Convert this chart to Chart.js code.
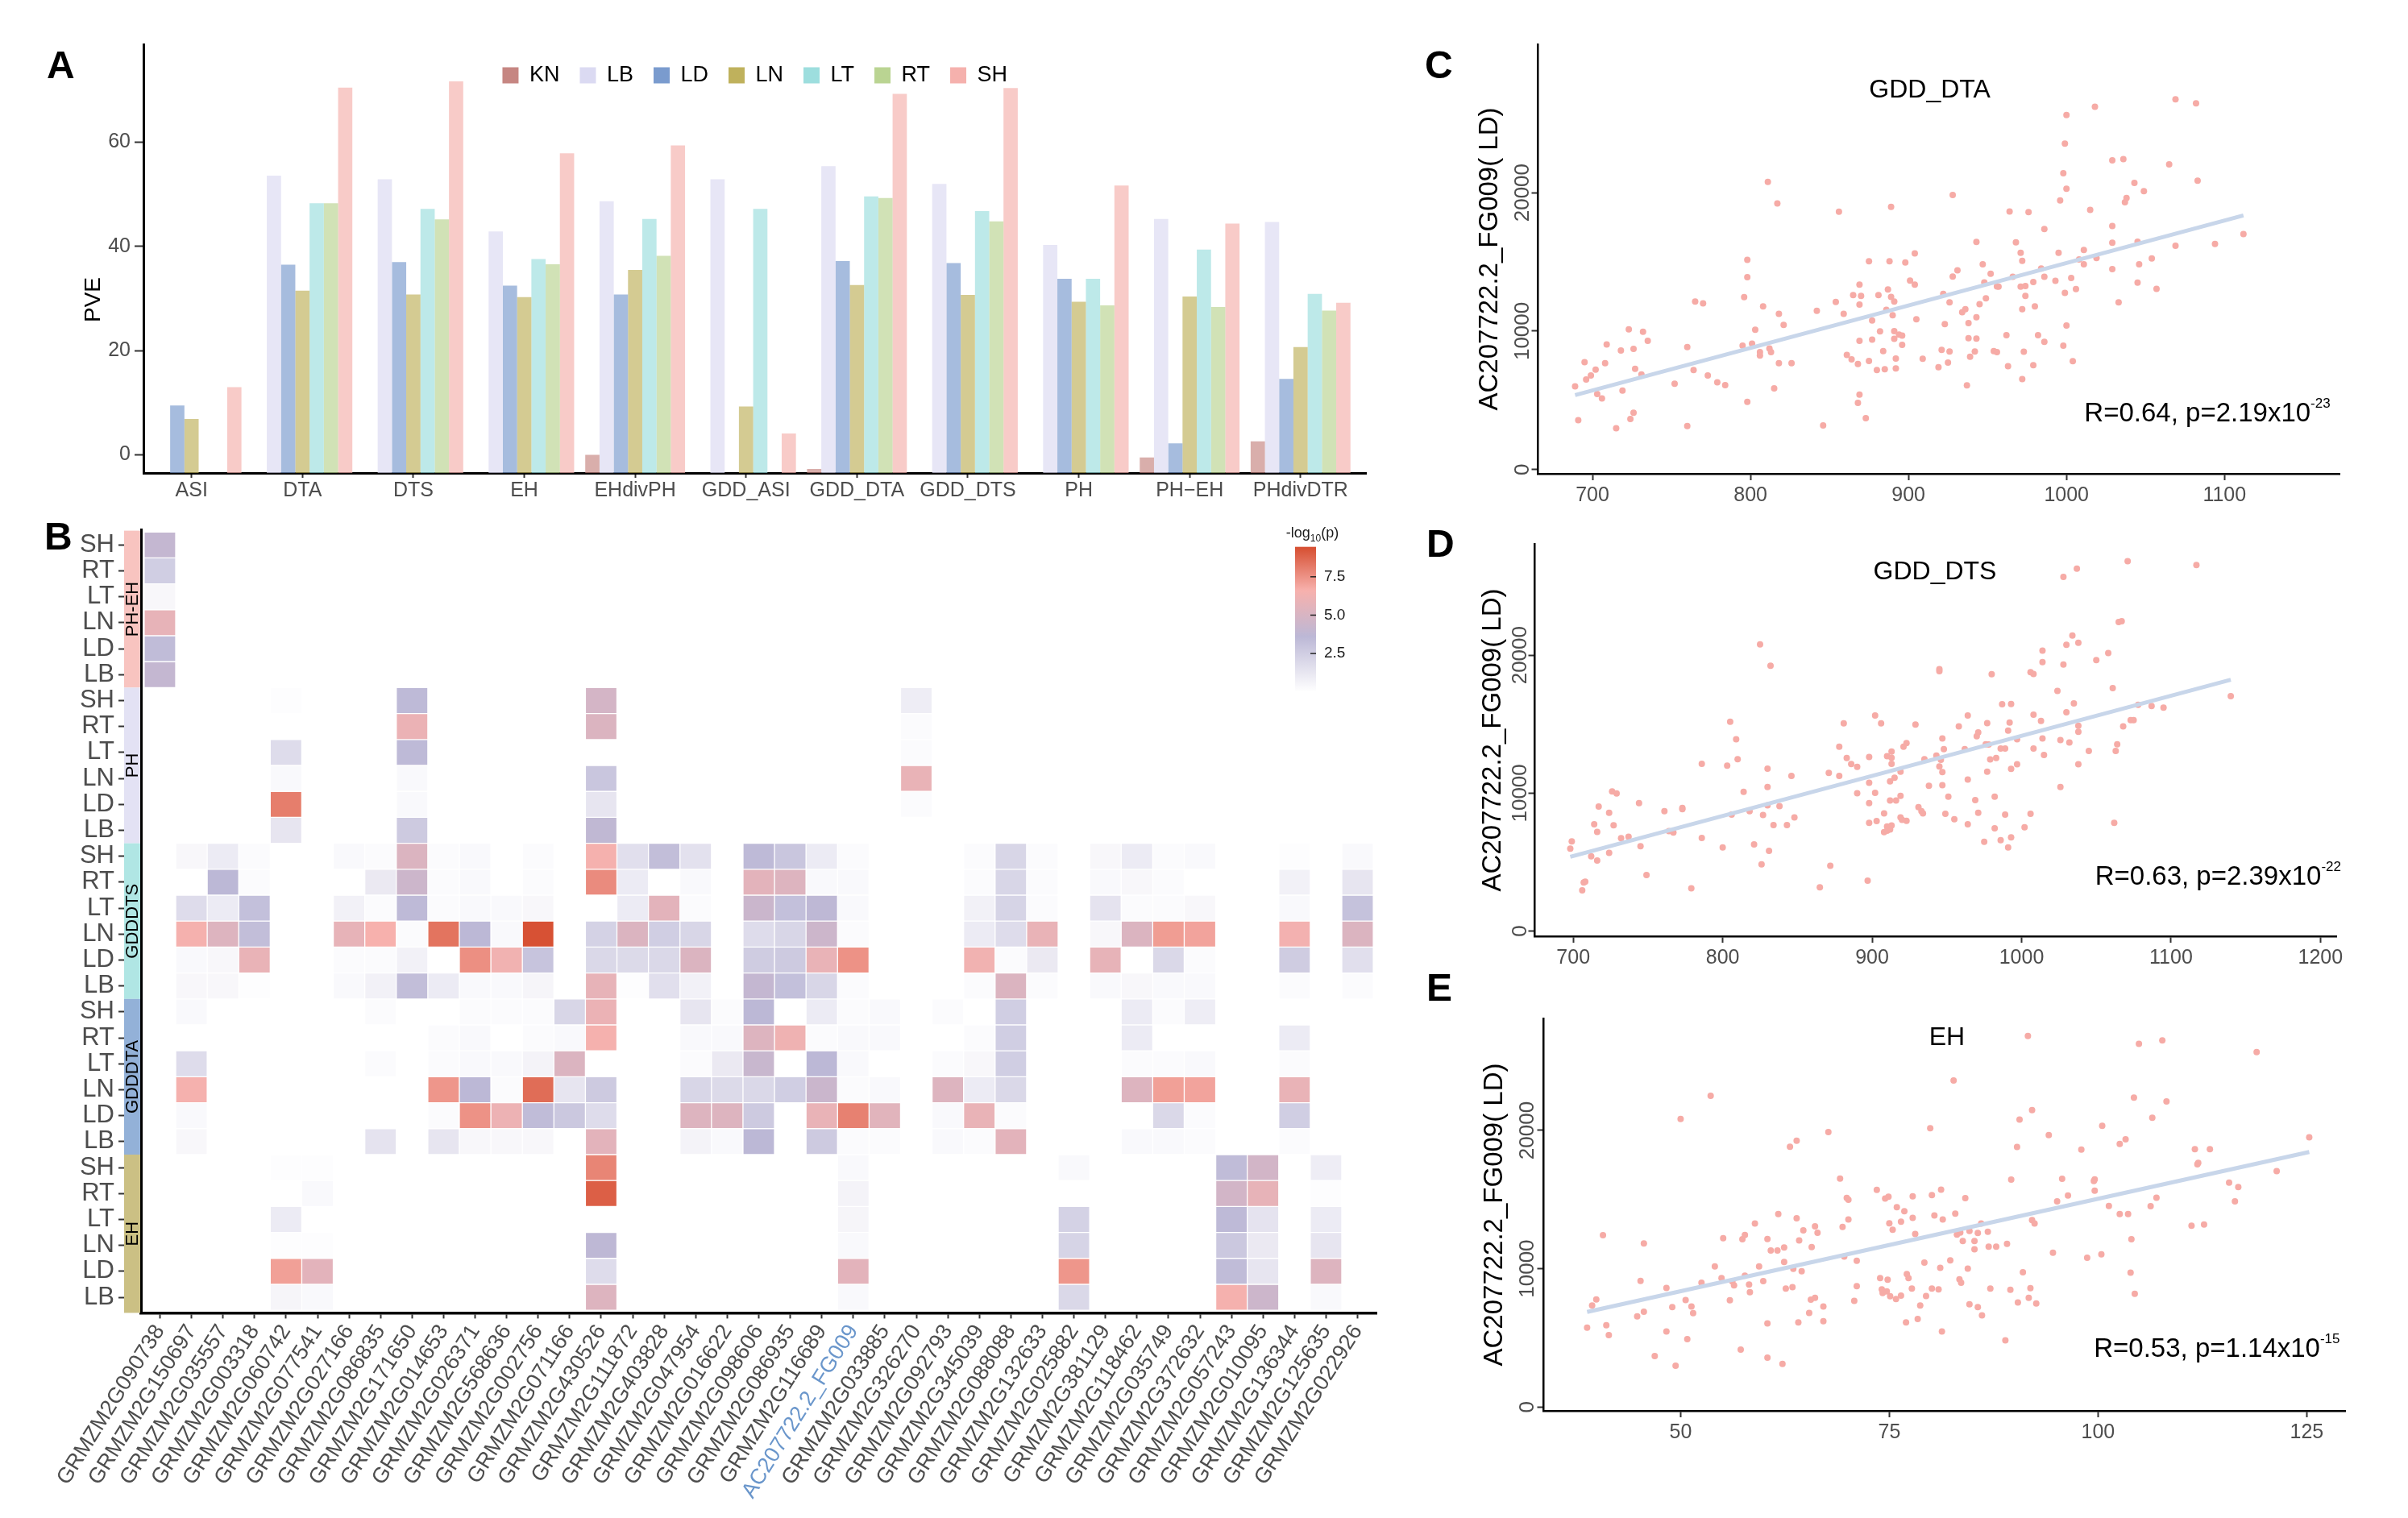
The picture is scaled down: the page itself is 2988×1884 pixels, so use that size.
<!DOCTYPE html>
<html lang="en">
<head>
<meta charset="utf-8">
<title>PVE, association heatmap and expression scatter</title>
<script src="https://cdn.jsdelivr.net/npm/chart.js@4.4.1/dist/chart.umd.min.js"></script>
<style>
  html, body { margin: 0; padding: 0; background: #fff; overflow: hidden; }
  #page { position: relative; width: 2988px; height: 1884px; }
  #page canvas { position: absolute; }
  .tag { position: absolute; font: bold 48px "Liberation Sans", Arial, sans-serif; line-height: 48px; color: #000; }
</style>
</head>
<body>
<div id="page">
  <canvas id="pveChart" width="1760" height="640" style="left:0px;top:0px"></canvas>
  <canvas id="heatChart" width="1760" height="1254" style="left:0px;top:630px"></canvas>
  <canvas id="dtaChart" width="1228" height="640" style="left:1760px;top:0px"></canvas>
  <canvas id="dtsChart" width="1228" height="580" style="left:1760px;top:630px"></canvas>
  <canvas id="ehChart" width="1228" height="669" style="left:1760px;top:1215px"></canvas>
  <div class="tag" style="left:58px;top:57px">A</div>
  <div class="tag" style="left:55px;top:642px">B</div>
  <div class="tag" style="left:1768px;top:57px">C</div>
  <div class="tag" style="left:1770px;top:651px">D</div>
  <div class="tag" style="left:1770px;top:1202px">E</div>
</div>
<script>
// ---------- panel A: PVE per trait and tissue ----------
const traits = ['ASI', 'DTA', 'DTS', 'EH', 'EHdivPH', 'GDD_ASI', 'GDD_DTA', 'GDD_DTS', 'PH', 'PH\u2212EH', 'PHdivDTR'];
const tissues = ['KN', 'LB', 'LD', 'LN', 'LT', 'RT', 'SH'];
const pveKN = [null, null, null, null, 0.0, null, -2.7, null, null, -0.5, 2.6];
const pveLB = [null, 53.6, 52.9, 42.9, 48.7, 52.9, 55.4, 52.0, 40.3, 45.3, 44.7];
const pveLD = [9.5, 36.5, 37.0, 32.5, 30.8, null, 37.2, 36.8, 33.8, 2.2, 14.6];
const pveLN = [6.9, 31.5, 30.8, 30.3, 35.5, 9.3, 32.6, 30.7, 29.4, 30.4, 20.7];
const pveLT = [null, 48.3, 47.2, 37.6, 45.3, 47.2, 49.6, 46.8, 33.8, 39.4, 30.9];
const pveRT = [null, 48.3, 45.2, 36.6, 38.2, null, 49.3, 44.8, 28.7, 28.4, 27.7];
const pveSH = [13.0, 70.5, 71.7, 57.9, 59.4, 4.1, 69.3, 70.4, 51.7, 44.4, 29.2];
const pveTicks = [0, 20, 40, 60];

// ---------- panel B: -log10(p) per gene and trait/tissue ----------
const genes = ['GRMZM2G090738', 'GRMZM2G150697', 'GRMZM2G035557', 'GRMZM2G003318', 'GRMZM2G060742',
  'GRMZM2G077541', 'GRMZM2G027166', 'GRMZM2G086835', 'GRMZM2G171650', 'GRMZM2G014653',
  'GRMZM2G026371', 'GRMZM2G568636', 'GRMZM2G002756', 'GRMZM2G071166', 'GRMZM2G430526',
  'GRMZM2G111872', 'GRMZM2G403828', 'GRMZM2G047954', 'GRMZM2G016622', 'GRMZM2G098606',
  'GRMZM2G086935', 'GRMZM2G116689', 'AC207722.2_FG009', 'GRMZM2G033885', 'GRMZM2G326270',
  'GRMZM2G092793', 'GRMZM2G345039', 'GRMZM2G088088', 'GRMZM2G132633', 'GRMZM2G025882',
  'GRMZM2G381129', 'GRMZM2G118462', 'GRMZM2G035749', 'GRMZM2G372632', 'GRMZM2G057243',
  'GRMZM2G010095', 'GRMZM2G136344', 'GRMZM2G125635', 'GRMZM2G022926'];
const highlightGene = 'AC207722.2_FG009';
const rowNames = ['SH', 'RT', 'LT', 'LN', 'LD', 'LB'];
const groups = ['PH-EH', 'PH', 'GDDDTS', 'GDDDTA', 'EH'];
const legendTicks = [2.5, 5.0, 7.5];

const _ = null;
const phehSH = [4.0,_,_,_,_,_,_,_,_,_,  _,_,_,_,_,_,_,_,_,_,  _,_,_,_,_,_,_,_,_,_,  _,_,_,_,_,_,_,_,_];
const phehRT = [2.5,_,_,_,_,_,_,_,_,_,  _,_,_,_,_,_,_,_,_,_,  _,_,_,_,_,_,_,_,_,_,  _,_,_,_,_,_,_,_,_];
const phehLT = [0.4,_,_,_,_,_,_,_,_,_,  _,_,_,_,_,_,_,_,_,_,  _,_,_,_,_,_,_,_,_,_,  _,_,_,_,_,_,_,_,_];
const phehLN = [5.8,_,_,_,_,_,_,_,_,_,  _,_,_,_,_,_,_,_,_,_,  _,_,_,_,_,_,_,_,_,_,  _,_,_,_,_,_,_,_,_];
const phehLD = [3.4,_,_,_,_,_,_,_,_,_,  _,_,_,_,_,_,_,_,_,_,  _,_,_,_,_,_,_,_,_,_,  _,_,_,_,_,_,_,_,_];
const phehLB = [4.0,_,_,_,_,_,_,_,_,_,  _,_,_,_,_,_,_,_,_,_,  _,_,_,_,_,_,_,_,_,_,  _,_,_,_,_,_,_,_,_];

const phSH = [_,_,_,_,0.1,_,_,_,3.5,_,  _,_,_,_,4.8,_,_,_,_,_,  _,_,_,_,0.9,_,_,_,_,_,  _,_,_,_,_,_,_,_,_];
const phRT = [_,_,_,_,_,_,_,_,6.0,_,  _,_,_,_,5.2,_,_,_,_,_,  _,_,_,_,0.2,_,_,_,_,_,  _,_,_,_,_,_,_,_,_];
const phLT = [_,_,_,_,1.8,_,_,_,3.5,_,  _,_,_,_,_,_,_,_,_,_,  _,_,_,_,0.2,_,_,_,_,_,  _,_,_,_,_,_,_,_,_];
const phLN = [_,_,_,_,0.3,_,_,_,0.3,_,  _,_,_,_,2.9,_,_,_,_,_,  _,_,_,_,5.9,_,_,_,_,_,  _,_,_,_,_,_,_,_,_];
const phLD = [_,_,_,_,8.1,_,_,_,0.3,_,  _,_,_,_,1.3,_,_,_,_,_,  _,_,_,_,0.2,_,_,_,_,_,  _,_,_,_,_,_,_,_,_];
const phLB = [_,_,_,_,1.3,_,_,_,2.7,_,  _,_,_,_,3.8,_,_,_,_,_,  _,_,_,_,_,_,_,_,_,_,  _,_,_,_,_,_,_,_,_];

const dtsSH = [_,0.4,1.0,0.2,_,_,0.3,0.2,5.2,0.2,  0.3,_,0.2,_,6.5,1.6,3.3,1.5,_,3.5,  2.9,1.0,0.2,_,_,_,0.2,2.1,0.2,_,  0.4,1.0,0.2,0.3,_,_,0.1,_,0.3];
const dtsRT = [_,_,3.6,0.2,_,_,_,1.1,4.4,0.2,  0.3,_,0.2,_,7.7,1.0,_,0.3,_,5.6,  5.3,0.3,0.3,_,_,_,0.2,2.1,0.2,_,  0.3,0.4,0.2,_,_,_,0.7,_,1.3];
const dtsLT = [_,1.8,1.0,3.2,_,_,0.7,0.2,3.5,0.2,  0.3,0.3,0.4,_,_,1.0,5.6,0.2,_,4.3,  3.2,3.7,0.3,_,_,_,0.7,2.2,0.2,_,  1.4,0.2,0.2,0.4,_,_,0.3,_,3.1];
const dtsLN = [_,6.5,5.3,3.3,_,_,5.8,6.6,0.2,8.4,  3.6,0.3,9.4,_,2.3,5.2,2.5,2.1,_,1.8,  2.1,4.4,0.2,_,_,_,1.0,1.8,5.9,_,  0.4,5.2,7.2,7.0,_,_,6.4,_,5.2];
const dtsLD = [_,0.3,0.4,5.9,_,_,0.2,0.2,0.7,_,  7.6,6.3,3.0,_,2.0,1.9,2.0,5.2,_,2.6,  2.7,5.9,7.5,_,_,_,6.3,0.2,1.1,_,  5.8,_,2.0,0.2,_,_,2.6,_,1.6];
const dtsLB = [_,0.4,0.4,0.1,_,_,0.3,0.7,3.3,1.0,  0.3,0.3,0.5,_,5.8,0.1,1.6,0.7,_,4.0,  3.2,2.1,0.2,_,_,_,0.2,5.2,0.2,_,  0.3,0.4,0.3,0.3,_,_,0.2,_,0.2];

const dtaSH = [_,0.3,_,_,_,_,_,0.2,_,_,  0.2,0.2,0.2,2.1,6.0,_,_,1.3,0.2,3.6,  _,1.0,0.2,0.3,_,0.2,_,2.5,_,_,  _,1.0,0.2,0.9,_,_,_,_,_];
const dtaRT = [_,_,_,_,_,_,_,_,_,0.2,  0.3,_,0.2,0.3,6.5,_,_,0.3,0.3,5.3,  6.2,0.2,0.3,0.3,_,_,0.2,2.5,_,_,  _,1.0,_,_,_,_,1.0,_,_];
const dtaLT = [_,1.8,_,_,_,_,_,0.2,_,0.2,  0.3,0.3,0.6,5.2,_,_,_,0.2,1.1,4.2,  _,3.6,0.3,_,_,0.2,0.4,2.5,_,_,  _,0.2,0.2,0.3,_,_,0.2,_,_];
const dtaLN = [_,6.5,_,_,_,_,_,_,_,7.4,  3.6,0.2,8.6,1.3,2.7,_,_,2.1,1.9,2.0,  2.5,4.3,0.2,0.3,_,5.3,1.0,2.0,_,_,  _,5.3,7.1,7.0,_,_,5.9,_,_];
const dtaLD = [_,0.3,_,_,_,_,_,_,_,0.2,  7.5,6.1,3.4,2.8,1.8,_,_,5.3,5.3,2.7,  _,5.9,8.0,5.5,_,0.3,5.9,0.2,_,_,  _,_,2.0,0.2,_,_,2.5,_,_];
const dtaLB = [_,0.4,_,_,_,_,_,1.4,_,1.3,  0.4,0.4,0.4,_,5.6,_,_,0.6,0.3,3.6,  _,2.7,0.2,0.2,_,0.3,0.2,5.6,_,_,  _,0.3,0.3,0.2,_,_,0.2,_,_];

const ehSH = [_,_,_,_,0.1,0.1,_,_,_,_,  _,_,_,_,7.9,_,_,_,_,_,  _,_,0.3,_,_,_,_,_,_,0.3,  _,_,_,_,3.4,4.7,_,0.9,_];
const ehRT = [_,_,_,_,_,0.3,_,_,_,_,  _,_,_,_,9.0,_,_,_,_,_,  _,_,0.6,_,_,_,_,_,_,_,  _,_,_,_,4.7,5.8,_,0.1,_];
const ehLT = [_,_,_,_,1.0,_,_,_,_,_,  _,_,_,_,_,_,_,_,_,_,  _,_,0.5,_,_,_,_,_,_,2.3,  _,_,_,_,3.5,1.4,_,1.0,_];
const ehLN = [_,_,_,_,0.1,0.1,_,_,_,_,  _,_,_,_,3.7,_,_,_,_,_,  _,_,0.3,_,_,_,_,_,_,2.2,  _,_,_,_,2.8,1.1,_,1.3,_];
const ehLD = [_,_,_,_,7.1,5.6,_,_,_,_,  _,_,_,_,1.8,_,_,_,_,_,  _,_,5.6,_,_,_,_,_,_,7.4,  _,_,_,_,3.4,1.3,_,5.3,_];
const ehLB = [_,_,_,_,0.5,0.3,_,_,_,_,  _,_,_,_,5.3,_,_,_,_,_,  _,_,0.3,_,_,_,_,_,_,2.0,  _,_,_,_,6.5,4.4,_,0.3,_];

// ---------- panels C-E: expression of AC207722.2_FG009 in LD vs trait ----------
const dtaX = [689,691,695,696,699,702,703,706,709,708, 715,718,719,723,724,726,726,727,731,732,
  735,752,760,760,764,765,770,773,779,784, 795,796,798,798,798,801,803,806,806,808,
  811,812,813,815,817,818,818,821,826,842, 846,854,856,859,861,864,865,868,868,869,
  869,869,869,870,873,875,875,877,877,880, 881,882,884,885,886,887,888,889,889,890,
  891,891,891,892,892,894,896,896,898,901, 904,904,905,909,919,921,922,923,925,926,
  926,928,928,931,934,936,937,938,938,939, 942,943,943,943,945,947,948,949,952,954,
  956,956,957,962,963,964,966,968,971,971, 972,972,972,973,974,974,976,979,980,979,
  982,984,986,986,986,993,995,996,998,998, 999,999,1000,1000,1000,1003,1004,1006,1008,1011,
  1011,1015,1018,1019,1029,1029,1029,1029,1033,1036, 1037,1038,1043,1045,1045,1046,1049,1054,1057,1065,
  1069,1069,1082,1083,1094,1112];
const dtaY = [6010,3560,7750,6500,6790,7220,5460,5140,9040,7680, 2980,8600,5700,10130,3650,8710,4100,7280,6860,9950,
  9290,6190,8840,3140,7190,12140,12000,6790,6300,6100, 8950,12450,13900,15140,4880,9090,10090,8480,8240,11780,
  20780,8750,8480,5860,19220,7680,11250,10440,7680,11470, 3180,12110,18620,11250,8280,7950,12600,7620,4810,11910,
  5410,9290,13360,12540,3700,15050,7840,10760,9380,7190, 12600,9980,8550,7240,11540,13010,15050,18970,12470,11140,
  9440,10000,12140,7300,8020,9750,9000,9670,14960,13650, 13360,15610,10850,8000,7390,8640,12690,10510,7730,8530,
  12070,13940,19840,14390,11360,11580,6080,9490,10580,8150, 8530,11000,16440,9460,11940,14830,13520,12360,14140,8550,
  8480,13230,13210,9710,7460,18640,13920,16410,15660,13210, 6530,11580,15080,8510,12540,13250,18600,13540,11780,7530,
  9710,14520,17370,13920,9220,13630,15660,19440,8950,21400, 23540,12760,20290,25610,10400,13830,7820,13030,15170,15860,
  14830,18750,26210,15280,22340,17590,16390,14480,12070,22430, 19310,19620,20710,16460,13500,14830,20110,15250,13050,22050,
  26750,16170,26460,20870,16300,17010];

const dtsX = [699,698,706,708,707,712,714,716,716,717, 724,724,726,727,729,732,737,744,745,749,
  761,764,767,773,773,779,786,786,800,803, 805,806,809,810,814,818,821,825,826,827,
  830,830,830,831,832,834,838,843,846,848, 865,871,872,878,878,881,883,886,890,890,
  897,898,898,898,898,902,902,903,906,908, 908,910,910,910,912,912,912,913,913,913,
  913,915,916,919,919,919,920,921,923,923, 929,931,933,934,935,938,943,945,945,945,
  946,947,947,947,948,949,951,955,958,962, 964,964,964,969,970,971,971,975,976,977,
  977,978,979,980,982,982,983,986,986,987, 989,989,991,991,992,993,993,993,997,997,
  1002,1006,1008,1006,1008,1008,1013,1014,1014,1015, 1014,1024,1026,1026,1028,1028,1030,1030,1032,1034,
  1035,1037,1038,1038,1038,1045,1038,1050,1058,1061, 1062,1063,1064,1065,1067,1068,1071,1073,1075,1078,
  1087,1095,1117,1140];
const dtsY = [6510,5980,2950,3580,3520,5430,7740,7190,5120,9030, 5670,8570,10130,7670,9980,6730,6840,9280,6150,4070,
  8700,7250,7140,8840,8920,3100,6750,12130,6070,12000, 15170,8440,13910,12460,10090,8700,6290,20790,4840,8420,
  11780,10440,9120,5820,19230,7690,9060,7690,11250,8240, 3170,11470,4730,11250,13360,15060,12550,12110,11910,10000,
  3650,12620,10750,9280,7850,10020,15630,7980,15060,8530, 7170,7580,12680,7280,10860,9470,7360,7650,13010,12570,
  12130,11120,9470,9800,11560,8240,8070,13360,13630,8000, 14970,8990,8700,8530,12460,10530,12730,18840,18990,11940,
  12420,11520,13960,10570,13190,8510,9740,8110,14840,13190, 7740,10990,15630,9500,14130,8570,14400,6480,13540,11560,
  15080,13520,12440,18620,9740,7450,12550,6590,13230,16440, 8440,13230,6070,14530,15120,11760,6790,16460,13910,12090,
  7520,18770,18640,8510,15690,13230,15230,13960,19500,12770, 20330,17410,10440,13850,19320,25670,15870,20750,13670,21430,
  16510,26270,14880,14440,20900,13060,12090,19650,20160,17610, 7850,13060,13540,22400,22460,14840,26820,15300,15300,16400,
  16310,16200,26530,17030];

const ehX = [38.8,39.4,39.9,40.7,41.1,41.4,44.8,45.2,45.6,45.6, 46.9,48.3,48.3,49.0,49.4,50.0,50.6,50.8,51.3,51.5,
  52.5,53.6,54.1,54.9,55.1,55.9,56.2,56.4,57.2,57.4, 57.7,57.7,58.2,58.3,58.9,59.4,59.9,60.4,60.4,60.4,
  60.8,61.6,61.7,62.2,62.4,62.4,62.6,63.1,63.4,63.5, 63.9,63.9,64.1,64.2,64.5,64.7,65.4,65.6,65.7,66.1,
  66.1,66.4,67.1,67.1,67.7,69.1,69.4,69.6,69.9,70.1, 70.1,70.8,71.1,71.1,73.5,73.9,74.1,74.2,74.5,74.7,
  74.8,74.9,75.0,75.1,75.4,75.8,75.9,76.4,76.4,76.8, 77.0,77.3,77.1,77.7,77.8,77.8,78.1,78.4,78.7,79.2,
  79.4,79.9,80.1,80.1,80.4,80.9,81.1,81.2,81.3,81.4, 82.3,82.7,82.9,83.1,83.4,83.5,83.6,83.8,84.1,84.4,
  84.6,84.6,85.2,85.2,85.6,85.6,86.0,86.1,86.8,86.9, 87.1,87.8,88.9,89.1,89.5,89.6,90.3,90.4,90.6,91.0,
  91.7,91.9,91.6,92.1,92.1,92.4,92.6,94.1,94.6,95.1, 95.7,96.4,98.0,98.7,99.5,99.6,99.6,100.4,100.5,101.3,
  102.6,102.6,103.3,103.6,103.9,104.0,104.3,104.4,104.9,106.3, 106.5,107.0,107.7,108.2,111.2,111.6,111.9,112.0,112.7,113.4,
  115.7,116.4,116.8,119.0,121.4,125.3];
const ehY = [5730,7340,7780,12420,5910,5200,6560,9120,6890,11820, 3680,8610,5460,7230,2990,20830,7740,4910,7270,6780,
  8990,22500,10170,9320,12200,7720,9080,8790,4150,12130, 12440,9500,8850,8300,13270,10170,9100,6040,12150,3570,
  11310,11310,13960,3120,10480,11530,8560,18820,8670,9990, 19250,13650,6110,12040,9810,12780,6800,7760,11570,7890,
  13070,12600,7270,6200,19890,16520,13020,10880,15120,14990, 13560,7670,10570,8740,15700,9320,8500,8250,15070,8360,
  9210,15210,13290,8010,12820,7800,14450,8050,13400,14160, 6110,9320,9610,8560,13670,15230,12510,6360,7340,10440,
  8030,20160,8560,15320,13850,8500,10060,15720,5460,13560, 10610,23620,13980,12470,9230,12620,8990,12000,15100,10010,
  12730,7430,11400,12000,12580,7230,13270,6620,12670,11600, 8560,11600,4820,11800,8470,16440,18800,7560,20780,9750,
  7890,8590,26830,21470,13510,13270,7490,19670,11150,14870, 16500,15300,18620,10790,16350,16460,15650,11040,20340,14540,
  19020,13960,19360,13960,9720,12130,22370,8180,26270,14520, 20920,15140,26510,22100,13110,18640,17550,17660,13200,18640,
  16230,14870,15900,25670,17060,19510];
const exprTicks = [0, 10000, 20000];

// ---------- styling ----------
const FONT = '"Liberation Sans", Arial, Helvetica, sans-serif';
Chart.defaults.font.family = FONT;
Chart.defaults.color = '#4d4d4d';
Chart.defaults.animation = false;

const tissueColors = ['#c68682', '#dbdaf2', '#7a9bce', '#bfb15c', '#9ddede', '#bad492', '#f5b1ad'];
const groupColors = ['#f8c4c0', '#e3e2f4', '#b0e6e4', '#93b1d8', '#cbc084'];
const heatStops = [[0, [255, 255, 255]], [3.6, [188, 184, 214]], [6.6, [247, 177, 173]], [9.5, [214, 78, 48]]];

function withAlpha(hex, a) {
  const n = parseInt(hex.slice(1), 16);
  return `rgba(${n >> 16}, ${(n >> 8) & 255}, ${n & 255}, ${a})`;
}
function heatColor(v) {
  for (let i = 1; i < heatStops.length; i++) {
    const [v0, c0] = heatStops[i - 1], [v1, c1] = heatStops[i];
    if (v <= v1 || i === heatStops.length - 1) {
      const t = Math.max(0, Math.min(1, (v - v0) / (v1 - v0)));
      const c = c0.map((k, j) => Math.round(k + (c1[j] - k) * t));
      return `rgb(${c[0]}, ${c[1]}, ${c[2]})`;
    }
  }
}
function fixedTicks(values) {
  return scale => { scale.ticks = values.map(v => ({ value: v })); };
}
const axisLine = { display: true, color: '#000', width: 3 };
const tickMarks = len => ({ display: true, drawOnChartArea: false, offset: false, tickLength: len, tickColor: '#333', tickWidth: 2 });

// ---------- A ----------
const pveSeries = [pveKN, pveLB, pveLD, pveLN, pveLT, pveRT, pveSH];
const pveTitle = {
  id: 'pveTitle',
  afterDraw(chart) {
    const ctx = chart.ctx;
    ctx.save();
    ctx.translate(116, 372);
    ctx.rotate(-Math.PI / 2);
    ctx.font = '28px ' + FONT;
    ctx.fillStyle = '#000';
    ctx.textAlign = 'center';
    ctx.textBaseline = 'middle';
    ctx.fillText('PVE', 0, 0);
    ctx.restore();
  }
};
// the legend sits inside the plot area, laid out in one row like ggplot's
const rowLegend = {
  id: 'rowLegend',
  beforeUpdate(chart) {
    if (chart.legend) chart.legend.isHorizontal = () => true;
  },
  afterLayout(chart) {
    const lg = chart.legend;
    if (lg) {
      lg.left = chart.chartArea.left;
      lg.right = chart.chartArea.right;
    }
  }
};

new Chart(document.getElementById('pveChart'), {
  type: 'bar',
  data: {
    labels: traits.map((t, i) => i),
    datasets: tissues.map((t, i) => ({
      label: t,
      data: pveSeries[i],
      backgroundColor: withAlpha(tissueColors[i], 0.67),
      borderWidth: 0,
      base: -3.47,
      categoryPercentage: 0.9,
      barPercentage: 1
    }))
  },
  options: {
    responsive: false,
    devicePixelRatio: 1,
    animation: false,
    layout: { padding: { left: 0, top: 55, right: 65, bottom: 0 } },
    plugins: {
      tooltip: { enabled: false },
      legend: {
        position: 'chartArea',
        align: 'center',
        labels: {
          boxWidth: 20, boxHeight: 20, padding: 25, color: '#000', font: { size: 27 },
          generateLabels: () => tissues.map((t, i) => ({
            text: t, fillStyle: tissueColors[i], strokeStyle: tissueColors[i],
            lineWidth: 0, hidden: false, datasetIndex: i
          }))
        }
      }
    },
    scales: {
      x: {
        type: 'linear', min: -0.43, max: 10.59, offset: false,
        afterBuildTicks: fixedTicks(traits.map((t, i) => i)),
        afterFit: s => { s.height = 53; },
        ticks: { autoSkip: false, maxRotation: 0, padding: 1, font: { size: 25 }, callback: v => traits[v] },
        grid: tickMarks(6),
        border: axisLine
      },
      y: {
        min: -3.47, max: 78.8,
        afterBuildTicks: fixedTicks(pveTicks),
        afterFit: s => { s.width = 178.5; },
        ticks: { padding: 5, font: { size: 25 }, callback: v => String(v) },
        grid: tickMarks(11.5),
        border: axisLine
      }
    }
  },
  plugins: [rowLegend, pveTitle]
});

// ---------- B ----------
const heatRows = [phehSH, phehRT, phehLT, phehLN, phehLD, phehLB,
  phSH, phRT, phLT, phLN, phLD, phLB,
  dtsSH, dtsRT, dtsLT, dtsLN, dtsLD, dtsLB,
  dtaSH, dtaRT, dtaLT, dtaLN, dtaLD, dtaLB,
  ehSH, ehRT, ehLT, ehLN, ehLD, ehLB];
heatRows.forEach((r, i) => { if (r.length !== genes.length) throw new Error('row ' + i + ' has ' + r.length); });

const heatDecor = {
  id: 'heatDecor',
  afterDraw(chart) {
    const ctx = chart.ctx;
    const y = chart.scales.y;
    ctx.save();
    // trait strips beside the row labels
    groups.forEach((g, i) => {
      const top = y.getPixelForValue(i === 0 ? -0.55 : i * 6 - 0.5);
      const bottom = y.getPixelForValue(i === groups.length - 1 ? 29.6 : i * 6 + 5.5);
      ctx.fillStyle = groupColors[i];
      ctx.fillRect(154, top, 20, bottom - top);
      ctx.save();
      ctx.translate(164.5, (top + bottom) / 2);
      ctx.rotate(-Math.PI / 2);
      ctx.font = '22px ' + FONT;
      ctx.fillStyle = '#000';
      ctx.textAlign = 'center';
      ctx.textBaseline = 'middle';
      ctx.fillText(g, 0, 0);
      ctx.restore();
    });
    // colour bar
    const cbX = 1607, cbW = 26, zeroY = 228.7, perUnit = 19.05, cbMax = 9.45;
    const yAt = v => zeroY - v * perUnit;
    const grad = ctx.createLinearGradient(0, yAt(0), 0, yAt(cbMax));
    heatStops.forEach(([v, c]) => grad.addColorStop(Math.min(v / cbMax, 1), `rgb(${c[0]}, ${c[1]}, ${c[2]})`));
    ctx.fillStyle = grad;
    ctx.fillRect(cbX, yAt(cbMax), cbW, yAt(0) - yAt(cbMax));
    ctx.strokeStyle = '#222';
    ctx.lineWidth = 1.5;
    ctx.font = '19px ' + FONT;
    ctx.fillStyle = '#1a1a1a';
    ctx.textAlign = 'left';
    ctx.textBaseline = 'middle';
    legendTicks.forEach(v => {
      ctx.beginPath();
      ctx.moveTo(cbX + cbW - 7, yAt(v));
      ctx.lineTo(cbX + cbW, yAt(v));
      ctx.stroke();
      ctx.fillText(v.toFixed(1), 1643, yAt(v));
    });
    // colour bar title: -log10(p)
    const parts = [['-log', 18, 0], ['10', 12, 5], ['(p)', 18, 0]];
    let total = 0;
    parts.forEach(p => { ctx.font = p[1] + 'px ' + FONT; total += ctx.measureText(p[0]).width; });
    let tx = 1628.5 - total / 2;
    ctx.textBaseline = 'alphabetic';
    parts.forEach(p => {
      ctx.font = p[1] + 'px ' + FONT;
      ctx.fillText(p[0], tx, 37 + p[2]);
      tx += ctx.measureText(p[0]).width;
    });
    ctx.restore();
  }
};

new Chart(document.getElementById('heatChart'), {
  type: 'bar',
  data: {
    labels: genes.map((g, i) => i),
    datasets: heatRows.map((vals, r) => ({
      data: vals.map(v => (v === null ? null : [r - 0.5, r + 0.5])),
      backgroundColor: vals.map(v => (v === null ? 'rgba(0,0,0,0)' : heatColor(v))),
      borderColor: '#ffffff',
      borderWidth: 1,
      borderSkipped: false,
      grouped: false,
      categoryPercentage: 1,
      barPercentage: 1
    }))
  },
  options: {
    responsive: false,
    devicePixelRatio: 1,
    animation: false,
    layout: { padding: { left: 0, top: 27, right: 52, bottom: 0 } },
    plugins: { legend: { display: false }, tooltip: { enabled: false } },
    scales: {
      x: {
        type: 'linear', min: -0.6, max: 38.6, offset: false,
        afterBuildTicks: fixedTicks(genes.map((g, i) => i)),
        afterFit: s => { s.height = 254.6; },
        ticks: {
          autoSkip: false, minRotation: 58, maxRotation: 58, padding: 2, font: { size: 27 },
          color: c => (genes[c.tick.value] === highlightGene ? '#6a96cb' : '#4d4d4d'),
          callback: v => genes[v]
        },
        grid: tickMarks(7),
        border: { display: true, color: '#000', width: 3.5 }
      },
      y: {
        type: 'linear', reverse: true, min: -0.6, max: 29.6,
        afterBuildTicks: fixedTicks(heatRows.map((r, i) => i)),
        afterFit: s => { s.width = 175; },
        ticks: { autoSkip: false, padding: 5, font: { size: 31 }, callback: v => rowNames[v % 6] },
        grid: tickMarks(28),
        border: axisLine
      }
    }
  },
  plugins: [heatDecor]
});

// ---------- C, D, E ----------
function leastSquares(xs, ys) {
  const n = xs.length;
  const mx = xs.reduce((a, b) => a + b, 0) / n;
  const my = ys.reduce((a, b) => a + b, 0) / n;
  let sxy = 0, sxx = 0;
  xs.forEach((x, i) => { sxy += (x - mx) * (ys[i] - my); sxx += (x - mx) * (x - mx); });
  const slope = sxy / sxx, icpt = my - slope * mx;
  const x0 = Math.min(...xs), x1 = Math.max(...xs);
  return [{ x: x0, y: icpt + slope * x0 }, { x: x1, y: icpt + slope * x1 }];
}

const scatterText = {
  id: 'scatterText',
  afterDraw(chart, args, o) {
    const { ctx, chartArea: a } = chart;
    const w = a.right - a.left, h = a.bottom - a.top;
    ctx.save();
    ctx.fillStyle = '#000';
    ctx.font = '32px ' + FONT;
    ctx.textAlign = 'center';
    ctx.textBaseline = 'middle';
    ctx.fillText(o.title, a.left + o.titleAt[0] * w, a.top + o.titleAt[1] * h);
    const main = `R=${o.r}, p=${o.p}x10`;
    ctx.font = '17px ' + FONT;
    const wSup = ctx.measureText(o.exp).width;
    ctx.font = '33px ' + FONT;
    const wMain = ctx.measureText(main).width;
    const xr = a.left + o.statAt[0] * w, yb = a.top + o.statAt[1] * h;
    ctx.textAlign = 'left';
    ctx.textBaseline = 'alphabetic';
    ctx.fillText(main, xr - wSup - wMain, yb);
    ctx.font = '17px ' + FONT;
    ctx.fillText(o.exp, xr - wSup, yb - 17);
    ctx.restore();
  }
};

function scatterPanel(cfg) {
  if (cfg.xs.length !== cfg.ys.length) throw new Error(cfg.id + ' x/y length mismatch');
  const pts = cfg.xs.map((x, i) => ({ x, y: cfg.ys[i] }));
  new Chart(document.getElementById(cfg.id), {
    type: 'scatter',
    data: {
      datasets: [
        { data: leastSquares(cfg.xs, cfg.ys), showLine: true, borderColor: '#c8d6ea', borderWidth: 5, pointRadius: 0 },
        { data: pts, pointRadius: 4, pointBackgroundColor: '#f6aba6', pointBorderWidth: 0 }
      ]
    },
    options: {
      responsive: false,
      devicePixelRatio: 1,
      animation: false,
      layout: { padding: { left: 0, top: cfg.area.top, right: cfg.w - cfg.area.right, bottom: 0 } },
      plugins: {
        legend: { display: false },
        tooltip: { enabled: false },
        scatterText: { title: cfg.title, titleAt: cfg.titleAt, r: cfg.r, p: cfg.p, exp: cfg.exp, statAt: cfg.statAt }
      },
      scales: {
        x: {
          type: 'linear', min: cfg.xMin, max: cfg.xMax,
          afterBuildTicks: fixedTicks(cfg.xTicks),
          afterFit: s => { s.height = cfg.h - cfg.area.bottom; },
          ticks: { autoSkip: false, maxRotation: 0, padding: 4, font: { size: 25 }, callback: v => String(v) },
          grid: tickMarks(8),
          border: { display: true, color: '#000', width: 2.5 }
        },
        y: {
          min: cfg.yMin, max: cfg.yMax,
          afterBuildTicks: fixedTicks(exprTicks),
          afterFit: s => { s.width = cfg.area.left; },
          ticks: {
            autoSkip: false, minRotation: 90, maxRotation: 90, crossAlign: 'center',
            padding: cfg.yTickPad, font: { size: 26 }, callback: v => String(v)
          },
          title: { display: true, text: 'AC207722.2_FG009( LD)', color: '#000', font: { size: 33 }, padding: { top: cfg.yTitlePad, bottom: 0 } },
          grid: tickMarks(7.5),
          border: { display: true, color: '#000', width: 2.5 }
        }
      }
    },
    plugins: [scatterText]
  });
}

scatterPanel({
  id: 'dtaChart', w: 1228, h: 640, area: { left: 148, right: 1143, top: 55, bottom: 588 },
  xs: dtaX, ys: dtaY, xMin: 665.3, xMax: 1172.8, yMin: -310, yMax: 30720,
  xTicks: [700, 800, 900, 1000, 1100], title: 'GDD_DTA', titleAt: [0.489, 0.108],
  r: '0.64', p: '2.19', exp: '-23', statAt: [0.9886, 0.878], yTitlePad: 69, yTickPad: -25
});
scatterPanel({
  id: 'dtsChart', w: 1228, h: 580, area: { left: 144, right: 1139, top: 45, bottom: 532 },
  xs: dtsX, ys: dtsY, xMin: 674, xMax: 1210.6, yMin: -374, yMax: 28070,
  xTicks: [700, 800, 900, 1000, 1100, 1200], title: 'GDD_DTS', titleAt: [0.4995, 0.0715],
  r: '0.63', p: '2.39', exp: '-22', statAt: [1.006, 0.869], yTitlePad: 72.7, yTickPad: -26.6
});
scatterPanel({
  id: 'ehChart', w: 1228, h: 669, area: { left: 155, right: 1150, top: 49, bottom: 536 },
  xs: ehX, ys: ehY, xMin: 33.55, xMax: 129.6, yMin: -280, yMax: 28100,
  xTicks: [50, 75, 100, 125], title: 'EH', titleAt: [0.5035, 0.049],
  r: '0.53', p: '1.14', exp: '-15', statAt: [0.9935, 0.862], yTitlePad: 74.9, yTickPad: -24
});
</script>
</body>
</html>
